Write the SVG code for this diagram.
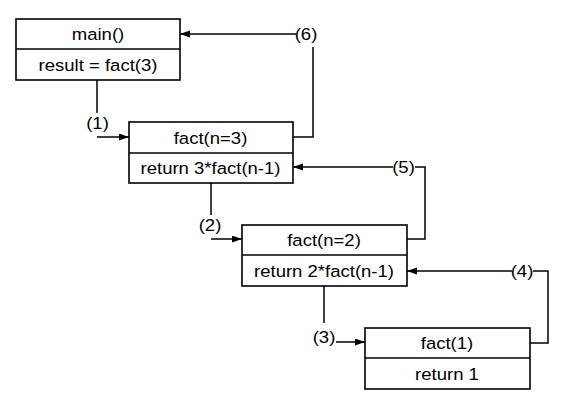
<svg xmlns="http://www.w3.org/2000/svg" width="567" height="406" viewBox="0 0 567 406">
<style>
.box{fill:#fff;stroke:#000;stroke-width:1.6}
.div{stroke:#000;stroke-width:1.6}
.t{font-family:"Liberation Sans",Arial,sans-serif;font-size:17px;text-anchor:middle;fill:#000}
.c{fill:none;stroke:#000;stroke-width:1.5}
</style>
<defs>
<marker id="ah" markerUnits="userSpaceOnUse" markerWidth="11" markerHeight="8" refX="10" refY="3.5" orient="auto">
<path d="M0,0 L10,3.5 L0,7 z" fill="#000"/>
</marker>
</defs>
<rect width="567" height="406" fill="#fff"/>
<g id="connectors">
<path class="c" d="M97,80 V113"/>
<path class="c" d="M97,137 H129" marker-end="url(#ah)"/>
<text class="t" transform="translate(97.5,129) scale(1.09,1)">(1)</text>
<path class="c" d="M211,183 V215"/>
<path class="c" d="M211,239 H242" marker-end="url(#ah)"/>
<text class="t" transform="translate(210,231) scale(1.09,1)">(2)</text>
<path class="c" d="M324,286 V323"/>
<path class="c" d="M336,342 H365" marker-end="url(#ah)"/>
<text class="t" transform="translate(324,343) scale(1.09,1)">(3)</text>
<path class="c" d="M530,343 H548 V271 H533"/>
<path class="c" d="M512,271 H407" marker-end="url(#ah)"/>
<text class="t" transform="translate(522,277) scale(1.09,1)">(4)</text>
<path class="c" d="M407,239 H425 V167 H415"/>
<path class="c" d="M393,167 H293" marker-end="url(#ah)"/>
<text class="t" transform="translate(403.5,173) scale(1.09,1)">(5)</text>
<path class="c" d="M293,137 H313 V47"/>
<path class="c" d="M296,34 H180" marker-end="url(#ah)"/>
<text class="t" transform="translate(306,40) scale(1.09,1)">(6)</text>
</g>
<g id="main">
<rect class="box" x="16" y="19" width="164" height="61"/>
<line class="div" x1="16" y1="49" x2="180" y2="49"/>
<text class="t" transform="translate(98,40) scale(1.09,1)">main()</text>
<text class="t" transform="translate(98,70.5) scale(1.09,1)">result = fact(3)</text>
</g>
<g id="fact3">
<rect class="box" x="129" y="122" width="164" height="61"/>
<line class="div" x1="129" y1="153" x2="293" y2="153"/>
<text class="t" transform="translate(210.5,143.5) scale(1.09,1)">fact(n=3)</text>
<text class="t" transform="translate(210.5,174) scale(1.09,1)">return 3*fact(n-1)</text>
</g>
<g id="fact2">
<rect class="box" x="242" y="225" width="165" height="61"/>
<line class="div" x1="242" y1="255" x2="407" y2="255"/>
<text class="t" transform="translate(324,246) scale(1.09,1)">fact(n=2)</text>
<text class="t" transform="translate(324,276.5) scale(1.09,1)">return 2*fact(n-1)</text>
</g>
<g id="fact1">
<rect class="box" x="365" y="328" width="165" height="61"/>
<line class="div" x1="365" y1="358" x2="530" y2="358"/>
<text class="t" transform="translate(447,349) scale(1.09,1)">fact(1)</text>
<text class="t" transform="translate(447,379.5) scale(1.09,1)">return 1</text>
</g>
</svg>
